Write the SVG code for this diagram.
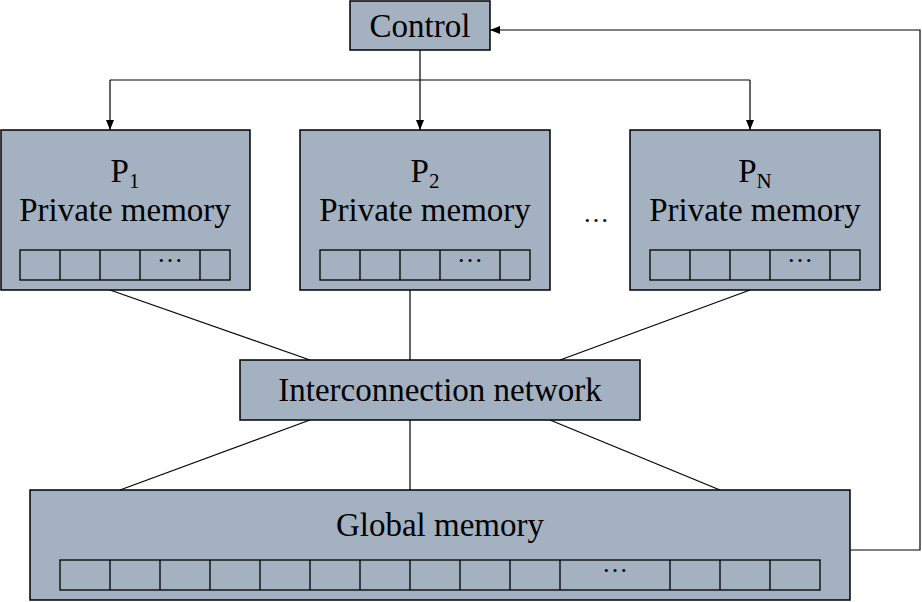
<svg xmlns="http://www.w3.org/2000/svg" width="922" height="602" viewBox="0 0 922 602">
<style>
.box{fill:#a3b1c0;stroke:#000;stroke-width:1.5}
.cell{fill:none;stroke:#000;stroke-width:1.3}
.ln{fill:none;stroke:#000;stroke-width:1.2}
text{font-family:"Liberation Serif","Times New Roman",serif;font-size:33px;fill:#000;text-anchor:middle}
.sub{font-size:21px}
.dots{font-size:26px}
</style>
<defs>
<marker id="ah" viewBox="0 0 10 10" refX="10" refY="5" markerWidth="10" markerHeight="10" markerUnits="userSpaceOnUse" orient="auto">
<path d="M0,1 L10,5 L0,9 z" fill="#000"/>
</marker>
</defs>
<rect width="922" height="602" fill="#fff"/>
<g id="connectors">
<path class="ln" d="M850,550 H920 V30 H490" marker-end="url(#ah)"/>
<path class="ln" d="M420,50 V130" marker-end="url(#ah)"/>
<path class="ln" d="M110,80 H750"/>
<path class="ln" d="M110,80 V130" marker-end="url(#ah)"/>
<path class="ln" d="M750,80 V130" marker-end="url(#ah)"/>
<line class="ln" x1="110" y1="290" x2="310" y2="360"/>
<line class="ln" x1="410" y1="290" x2="410" y2="360"/>
<line class="ln" x1="750" y1="290" x2="560" y2="360"/>
<line class="ln" x1="310" y1="420" x2="120" y2="490"/>
<line class="ln" x1="410" y1="420" x2="410" y2="490"/>
<line class="ln" x1="550" y1="420" x2="720" y2="490"/>
</g>
<g id="control">
<rect class="box" x="350" y="1" width="140" height="49"/>
<text x="420" y="37">Control</text>
</g>
<g id="p1">
<rect class="box" x="1" y="130" width="249" height="160"/>
<text x="125" y="182">P<tspan class="sub" dy="6">1</tspan></text>
<text x="125" y="221">Private memory</text>
<rect class="cell" x="20" y="250" width="210" height="30"/>
<path class="cell" d="M60,250V280M100,250V280M140,250V280M200,250V280"/>
<text class="dots" x="170" y="262">…</text>
</g>
<g id="p2">
<rect class="box" x="300" y="130" width="250" height="160"/>
<text x="425" y="182">P<tspan class="sub" dy="6">2</tspan></text>
<text x="425" y="221">Private memory</text>
<rect class="cell" x="320" y="250" width="210" height="30"/>
<path class="cell" d="M360,250V280M400,250V280M440,250V280M500,250V280"/>
<text class="dots" x="470" y="262">…</text>
</g>
<g id="ellipsis">
<text class="dots" x="596" y="222">…</text>
</g>
<g id="pN">
<rect class="box" x="630" y="130" width="250" height="160"/>
<text x="755" y="182">P<tspan class="sub" dy="6">N</tspan></text>
<text x="755" y="221">Private memory</text>
<rect class="cell" x="650" y="250" width="210" height="30"/>
<path class="cell" d="M690,250V280M730,250V280M770,250V280M830,250V280"/>
<text class="dots" x="800" y="262">…</text>
</g>
<g id="interconnect">
<rect class="box" x="240" y="360" width="400" height="60"/>
<text x="440" y="401">Interconnection network</text>
</g>
<g id="global">
<rect class="box" x="30" y="490" width="820" height="110"/>
<text x="440" y="536">Global memory</text>
<rect class="cell" x="60" y="560" width="760" height="30"/>
<path class="cell" d="M110,560V590M160,560V590M210,560V590M260,560V590M310,560V590M360,560V590M410,560V590M460,560V590M510,560V590M560,560V590M670,560V590M720,560V590M770,560V590"/>
<text class="dots" x="615" y="572">…</text>
</g>
</svg>
